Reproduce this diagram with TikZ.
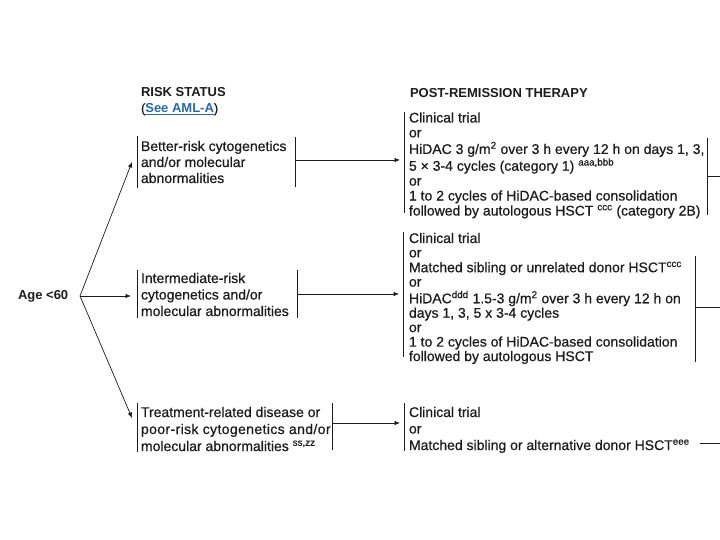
\documentclass[tikz,border=0pt]{standalone}
\usepackage{fontspec}
\setmainfont{Liberation Sans}[UprightFeatures={FakeBold=0.6}]
\usetikzlibrary{arrows.meta}
\definecolor{ink}{HTML}{1C1C1C}
\definecolor{linkblue}{HTML}{2B68A8}
\newcommand{\mylines}[1]{\begin{tabular}[t]{@{}l@{}}#1\end{tabular}}
\begin{document}
\begin{tikzpicture}[x=1pt,y=-1pt,
  every node/.style={inner sep=0pt, outer sep=0pt, text=ink},
  body/.style={anchor=base west},
  head/.style={anchor=base west, font=\fontsize{13}{15}\selectfont\bfseries},
  rule/.style={line width=1pt, draw=ink},
  conn/.style={line width=0.7pt, draw=ink, -{Latex[length=5.5pt,width=4.5pt]}},
  stub/.style={line width=0.9pt, draw=ink}]
\useasboundingbox[fill=white] (0,0) rectangle (720,540);

% headings
\node[head] (rs) at (141,97) {RISK STATUS};
\node[body, font=\fontsize{13}{15}\selectfont] (see) at (141,112.7) {(\textcolor{linkblue}{\bfseries\underline{See AML-A}})};
\node[head] (pr) at (410,98) {POST-REMISSION THERAPY};

% age
\node[anchor=west, font=\fontsize{13}{15}\selectfont\bfseries] (age) at (18,296) {Age <60};
\coordinate (split) at (80,296);

% risk boxes
\node[body, font=\fontsize{14}{16}\selectfont] (r1) at (141,151)
  {\mylines{Better-risk cytogenetics\\and/or molecular\\abnormalities}};
\node[body, font=\fontsize{14}{16.5}\selectfont] (r2) at (141,283)
  {\mylines{Intermediate-risk\\cytogenetics and/or\\molecular abnormalities}};
\node[body, font=\fontsize{14}{17}\selectfont] (r3) at (141,417)
  {\mylines{Treatment-related disease or\\{\addfontfeatures{LetterSpace=2.7}poor-risk cytogenetics and/or}\\molecular abnormalities \textsuperscript{ss,zz}}};

% therapy boxes
\node[body, font=\fontsize{14}{14.9}\selectfont] (t1) at (409,122.5)
  {\mylines{Clinical trial\\or\\HiDAC 3 g/m\textsuperscript{2} over 3 h every 12 h on days 1, 3,\\5 × 3-4 cycles (category 1) \textsuperscript{aaa,bbb}\\or\\1 to 2 cycles of HiDAC-based consolidation\\followed by autologous HSCT \textsuperscript{ccc} (category 2B)}};
\node[body, font=\fontsize{14}{14.4}\selectfont] (t2) at (409,243)
  {\mylines{Clinical trial\\or\\Matched sibling or unrelated donor HSCT\textsuperscript{ccc}\\or\\HiDAC\textsuperscript{ddd} 1.5-3 g/m\textsuperscript{2} over 3 h every 12 h on\\days 1, 3, 5 x 3-4 cycles\\or\\1 to 2 cycles of HiDAC-based consolidation\\followed by autologous HSCT}};
\node[body, font=\fontsize{14}{16.5}\selectfont] (t3) at (409,417)
  {\mylines{Clinical trial\\or\\Matched sibling or alternative donor HSCT\textsuperscript{eee}}};

% brackets of risk boxes
\draw[rule] (137,136) -- (137,188);
\draw[rule] (295,137) -- (295,187);
\draw[rule] (137,270) -- (137,318);
\draw[rule] (297,270) -- (297,318);
\draw[rule] (137,403) -- (137,452);
\draw[rule] (332,403) -- (332,450);

% brackets of therapy boxes
\draw[rule] (404,112) -- (404,213);
\draw[rule] (707,138) -- (707,215);
\draw[rule] (403,232) -- (403,357);
\draw[rule] (695,256) -- (695,362);
\draw[rule] (404,403) -- (404,451);

% connectors from age
\coordinate (r1in) at (132,162);
\coordinate (r2in) at (131,296);
\coordinate (r3in) at (132,418);
\draw[conn] (split) -- (r1in);
\draw[conn] (split) -- (r2in);
\draw[conn] (split) -- (r3in);

% connectors risk -> therapy
\coordinate (r1out) at (295,160);
\coordinate (t1in) at (400,160);
\coordinate (r2out) at (297,294);
\coordinate (t2in) at (399,294);
\coordinate (r3out) at (332,423);
\coordinate (t3in) at (400,423);
\draw[conn] (r1out) -- (t1in);
\draw[conn] (r2out) -- (t2in);
\draw[conn] (r3out) -- (t3in);

% stubs to the right
\coordinate (s1a) at (707,176);
\coordinate (s1b) at (720,176);
\coordinate (s2a) at (695,307);
\coordinate (s2b) at (720,307);
\coordinate (s3a) at (700,443);
\coordinate (s3b) at (720,443);
\draw[stub] (s1a) -- (s1b);
\draw[stub] (s2a) -- (s2b);
\draw[stub] (s3a) -- (s3b);
\end{tikzpicture}
\end{document}
